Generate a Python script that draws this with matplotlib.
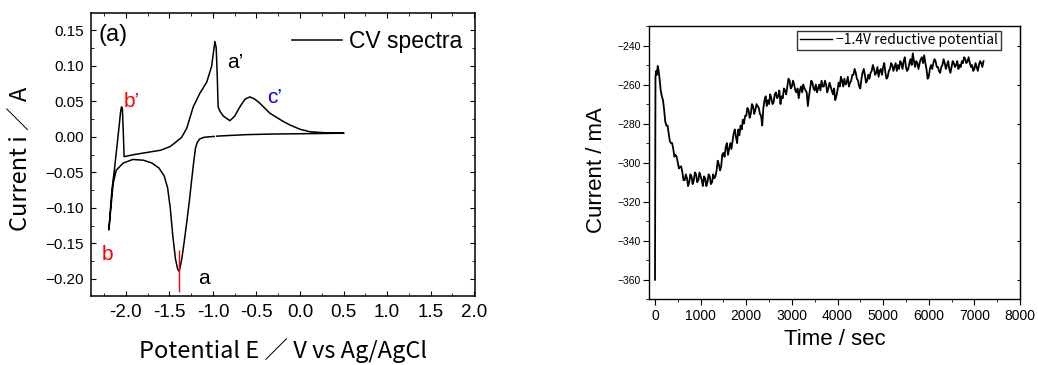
import matplotlib
matplotlib.use("Agg")
import matplotlib.pyplot as plt
import numpy as np
from matplotlib.ticker import MultipleLocator, FuncFormatter

# ---------------- data: CV (left panel) ----------------
cv_E = [0.50, 0.20, 0.00, -0.30, -0.60, -0.85, -0.955, np.nan, -0.985, -1.05, -1.10, -1.15, -1.18, -1.20,
        -1.22, -1.245, -1.27, -1.30, -1.33, -1.355, -1.375, -1.39, -1.405, -1.43, -1.46, -1.49, -1.52,
        -1.56, -1.62, -1.70, -1.80, -1.92, -2.03, -2.11, -2.146, -2.195,
        -2.16, -2.13, -2.09, -2.06, -2.05, -2.04, -2.03, -2.02, -1.90, -1.75, -1.60, -1.494,
        -1.45, -1.40, -1.36, -1.30, -1.226, -1.15, -1.07, -1.015, -0.99, -0.977, -0.962, -0.95,
        -0.94, -0.92, -0.88, -0.805, -0.75, -0.69, -0.63, -0.575, -0.52, -0.46, -0.345, -0.20,
        -0.115, 0.00, 0.115, 0.30, 0.50]
cv_I = [0.0050, 0.0045, 0.0042, 0.0038, 0.0030, 0.0015, 0.0008, np.nan, 0.0004, -0.0002, -0.0008, -0.003, -0.008, -0.016,
        -0.035, -0.062, -0.090, -0.120, -0.148, -0.170, -0.183, -0.189, -0.186, -0.172, -0.140, -0.100, -0.072,
        -0.055, -0.044, -0.037, -0.033, -0.032, -0.037, -0.047, -0.066, -0.131,
        -0.075, -0.045, 0.000, 0.035, 0.042, 0.040, 0.010, -0.028, -0.025, -0.022, -0.019, -0.014,
        -0.010, -0.005, -0.001, 0.012, 0.042, 0.061, 0.077, 0.099, 0.122, 0.134, 0.125, 0.085,
        0.042, 0.036, 0.029, 0.0225, 0.029, 0.042, 0.053, 0.056, 0.053, 0.047, 0.033, 0.022,
        0.0165, 0.0105, 0.007, 0.0055, 0.0048]
peak_a_E = -1.387
peak_a_range = (-0.218, -0.160)

cv_xticks = [-2.0, -1.5, -1.0, -0.5, 0.0, 0.5, 1.0, 1.5, 2.0]
cv_yticks = [-0.20, -0.15, -0.10, -0.05, 0.00, 0.05, 0.10, 0.15]

# ---------------- data: chronoamperometry (right panel) ----------------
ca_t = [0, 10, 25, 40, 60, 80,
        100, 125, 150, 175, 200, 225, 250, 275, 300, 325, 350, 375, 400, 425, 450, 475, 500, 525, 550, 575,
        600, 625, 650, 675, 700, 725, 750, 775, 800, 825, 850, 875, 900, 925, 950, 975, 1000, 1025, 1050, 1075,
        1100, 1125, 1150, 1175, 1200, 1225, 1250, 1275, 1300, 1325, 1350, 1375, 1400, 1425, 1450, 1475, 1500, 1525, 1550, 1575,
        1600, 1625, 1650, 1675, 1700, 1725, 1750, 1775, 1800, 1825, 1850, 1875, 1900, 1925, 1950, 1975, 2000, 2025, 2050, 2075,
        2100, 2125, 2150, 2175, 2200, 2225, 2250, 2275, 2300, 2325, 2350, 2375, 2400, 2425, 2450, 2475, 2500, 2525, 2550, 2575,
        2600, 2625, 2650, 2675, 2700, 2725, 2750, 2775, 2800, 2825, 2850, 2875, 2900, 2925, 2950, 2975, 3000, 3025, 3050, 3075,
        3100, 3125, 3150, 3175, 3200, 3225, 3250, 3275, 3300, 3325, 3350, 3375, 3400, 3425, 3450, 3475, 3500, 3525, 3550, 3575,
        3600, 3625, 3650, 3675, 3700, 3725, 3750, 3775, 3800, 3825, 3850, 3875, 3900, 3925, 3950, 3975, 4000, 4025, 4050, 4075,
        4100, 4125, 4150, 4175, 4200, 4225, 4250, 4275, 4300, 4325, 4350, 4375, 4400, 4425, 4450, 4475, 4500, 4525, 4550, 4575,
        4600, 4625, 4650, 4675, 4700, 4725, 4750, 4775, 4800, 4825, 4850, 4875, 4900, 4925, 4950, 4975, 5000, 5025, 5050, 5075,
        5100, 5125, 5150, 5175, 5200, 5225, 5250, 5275, 5300, 5325, 5350, 5375, 5400, 5425, 5450, 5475, 5500, 5525, 5550, 5575,
        5600, 5625, 5650, 5675, 5700, 5725, 5750, 5775, 5800, 5825, 5850, 5875, 5900, 5925, 5950, 5975, 6000, 6025, 6050, 6075,
        6100, 6125, 6150, 6175, 6200, 6225, 6250, 6275, 6300, 6325, 6350, 6375, 6400, 6425, 6450, 6475, 6500, 6525, 6550, 6575,
        6600, 6625, 6650, 6675, 6700, 6725, 6750, 6775, 6800, 6825, 6850, 6875, 6900, 6925, 6950, 6975, 7000, 7025, 7050, 7075,
        7100, 7125, 7150, 7175, 7200]
ca_I = [-360, -256, -253, -255, -250.5, -253,
        -257, -263, -266, -268, -273, -279, -281, -281, -285, -289, -290, -290, -293, -297, -296, -297, -300, -303, -302, -302,
        -305, -309, -309, -306, -308, -312, -310, -306, -307, -311, -309, -305, -306, -310, -309, -305, -307, -309, -312, -307,
        -308, -312, -310, -306, -307, -311, -310, -306, -308, -307, -304, -299, -301, -304, -302, -296, -295, -297, -292, -290,
        -296, -293, -290, -293, -289, -285, -283, -287, -290, -283, -286, -281, -283, -278, -280, -276, -276, -272, -273, -277,
        -275, -270, -271, -275, -273, -270, -271, -272, -275, -276, -281, -272, -268, -266, -271, -268, -270, -265, -267, -270,
        -269, -265, -264, -267, -266, -263, -270, -266, -267, -262, -263, -265, -261, -257, -258, -262, -261, -258, -260, -263,
        -264, -262, -267, -263, -261, -264, -260, -262, -263, -264, -271, -266, -262, -258, -259, -262, -263, -260, -264, -262,
        -260, -263, -258, -261, -261, -258, -260, -264, -262, -259, -261, -263, -265, -262, -268, -266, -263, -259, -261, -256,
        -258, -261, -257, -260, -259, -256, -261, -259, -258, -255, -255, -252, -254, -257, -258, -261, -262, -257, -254, -252,
        -255, -259, -258, -255, -257, -254, -253, -250, -252, -255, -254, -251, -256, -253, -252, -255, -251, -249, -254, -257,
        -256, -253, -252, -249, -250, -253, -251, -249, -253, -250, -252, -248, -249, -252, -248, -246, -251, -253, -252, -249,
        -247, -250, -244, -248, -251, -248, -249, -252, -249, -247, -246, -249, -245, -249, -252, -257, -256, -252, -250, -252,
        -249, -247, -248, -251, -251, -253, -254, -251, -250, -247, -249, -252, -250, -248, -252, -254, -251, -248, -249, -251,
        -250, -248, -252, -250, -251, -248, -249, -246, -247, -249, -248, -246, -249, -251, -250, -253, -252, -249, -251, -253,
        -250, -248, -249, -251, -248]
ca_xticks = [0, 1000, 2000, 3000, 4000, 5000, 6000, 7000, 8000]
ca_yticks = [-360, -340, -320, -300, -280, -260, -240]

# ---------------- figure ----------------
W, H = 1038, 365
fig = plt.figure(figsize=(W / 100, H / 100), dpi=100)

def frac(px_l, px_t, px_r, px_b):
    return [px_l / W, 1 - px_b / H, (px_r - px_l) / W, (px_b - px_t) / H]

sans = ["Liberation Sans", "DejaVu Sans"]
jp = ["Noto Sans CJK JP", "DejaVu Sans"]

# ---------------- left panel ----------------
ax1 = fig.add_axes(frac(91, 13, 475, 296))
ax1.plot(cv_E, cv_I, color="black", lw=1.1, label="CV spectra")
ax1.vlines(peak_a_E, peak_a_range[0], peak_a_range[1], color="red", lw=1.0)
ax1.set_xlim(-2.40, 2.01)
ax1.set_ylim(-0.224, 0.174)
ax1.set_xticks(cv_xticks)
ax1.set_yticks(cv_yticks)
ax1.xaxis.set_minor_locator(MultipleLocator(0.25))
ax1.yaxis.set_minor_locator(MultipleLocator(0.025))
ax1.xaxis.set_major_formatter(FuncFormatter(lambda v, p: f"{v:.1f}"))
ax1.yaxis.set_major_formatter(FuncFormatter(lambda v, p: f"{v:.2f}".replace("-", "\u2212")))
ax1.tick_params(which="both", direction="in", top=True, right=True)
ax1.tick_params(which="major", length=3.5, width=0.8)
ax1.tick_params(which="minor", length=2, width=0.6)
ax1.tick_params(axis="x", labelsize=13.5, pad=6)
ax1.tick_params(axis="y", labelsize=11, pad=5)
for lab in ax1.get_xticklabels() + ax1.get_yticklabels():
    lab.set_family(sans)
for s in ax1.spines.values():
    s.set_linewidth(1.1)
ax1.set_xlabel("Potential E \uff0f V vs Ag/AgCl", fontsize=17, family=jp)
ax1.xaxis.set_label_coords(0.501, -0.15)
ax1.set_ylabel("Current i \uff0f A", fontsize=17, family=jp)
ax1.yaxis.set_label_coords(-0.15, 0.484)

ax1.text(-2.31, 0.143, "(a)", fontsize=17, family=sans, va="center", ha="left")
ax1.text(-0.84, 0.104, "a\u2019", fontsize=15, family=sans, va="center", ha="left", color="black")
ax1.text(-2.03, 0.050, "b\u2019", fontsize=15, family=sans, va="center", ha="left", color="red")
ax1.text(-0.38, 0.055, "c\u2019", fontsize=15, family=sans, va="center", ha="left", color="blue")
ax1.text(-2.28, -0.165, "b", fontsize=15, family=sans, va="center", ha="left", color="red")
ax1.text(-1.17, -0.200, "a", fontsize=15, family=sans, va="center", ha="left", color="black")

leg1 = ax1.legend(loc="center left", bbox_to_anchor=(0.523, 0.899), frameon=False,
                  borderaxespad=0, borderpad=0, handlelength=2.2, handletextpad=0.3,
                  prop={"family": sans, "size": 16.5})

# ---------------- right panel ----------------
ax2 = fig.add_axes(frac(649.3, 26, 1020, 299.3))
ax2.plot(ca_t, ca_I, color="black", lw=1.3, label="\u22121.4V reductive potential")
ax2.set_xlim(-125, 8000)
ax2.set_ylim(-370, -230)
ax2.set_xticks(ca_xticks)
ax2.set_yticks(ca_yticks)
ax2.xaxis.set_minor_locator(MultipleLocator(500))
ax2.yaxis.set_minor_locator(MultipleLocator(10))
ax2.tick_params(which="both", direction="out", top=False, right=False)
ax2.tick_params(which="major", length=4, width=0.8)
ax2.tick_params(which="minor", length=2, width=0.6)
ax2.tick_params(axis="x", labelsize=10, pad=3)
ax2.tick_params(axis="y", labelsize=7.5, pad=2)
for lab in ax2.get_xticklabels() + ax2.get_yticklabels():
    lab.set_family(sans)
ax2.yaxis.set_major_formatter(FuncFormatter(lambda v, p: f"{int(v)}".replace("-", "\u2212")))
sec = ax2.secondary_yaxis("right")
sec.tick_params(which="both", direction="in", length=2, labelright=False)
for s in ax2.spines.values():
    s.set_linewidth(1.0)
ax2.set_xlabel("Time / sec", fontsize=16, family=sans)
ax2.xaxis.set_label_coords(0.501, -0.11)
ax2.set_ylabel("Current / mA", fontsize=16, family=sans)
ax2.yaxis.set_label_coords(-0.115, 0.473)

leg2 = ax2.legend(loc="center right", bbox_to_anchor=(0.9487, 0.9477), frameon=True,
                  fancybox=False, borderaxespad=0, borderpad=0.2, handlelength=2.3,
                  handletextpad=0.3, prop={"family": jp, "size": 10})
leg2.get_frame().set_edgecolor("black")
leg2.get_frame().set_linewidth(1.0)
for h in leg2.get_lines():
    h.set_linewidth(1.0)

fig.savefig("out.png", dpi=100)
